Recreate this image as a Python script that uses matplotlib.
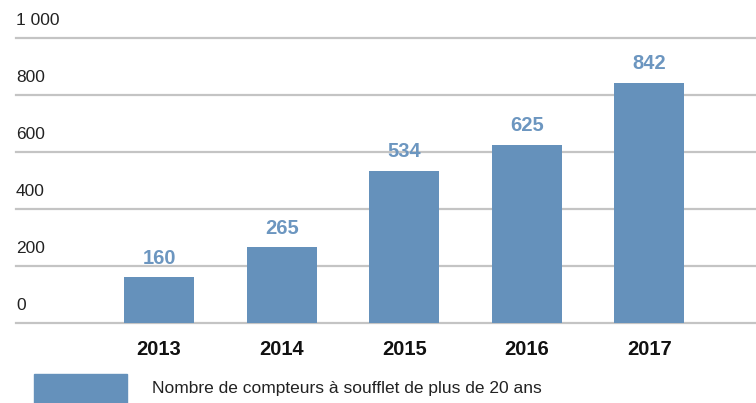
import matplotlib
matplotlib.use("Agg")
import matplotlib.pyplot as plt
from matplotlib.patches import Rectangle

years = ["2013", "2014", "2015", "2016", "2017"]
values = [160, 265, 534, 625, 842]
yticks = [0, 200, 400, 600, 800, 1000]
ytick_labels = ["0", "200", "400", "600", "800", "1 000"]
legend_label = "Nombre de compteurs à soufflet de plus de 20 ans"

plt.rcParams["font.family"] = ["Liberation Sans", "DejaVu Sans"]

bar_color = "#6591BB"
label_color = "#6C96C0"
grid_color = "#C4C4C4"

fig = plt.figure(figsize=(7.56, 4.03), dpi=100)
ax = fig.add_axes([16/756, 1-323/403, 1-16/756, (323-38)/403])

x = list(range(len(years)))
ax.bar(x, values, width=0.571, color=bar_color, zorder=3)
ax.set_xlim(-1.167, 4.87)
ax.set_ylim(0, 1000)

for t in yticks:
    ax.axhline(t, color=grid_color, lw=1.6, zorder=1, clip_on=False)
for t, lab in zip(yticks, ytick_labels):
    ax.annotate(lab, xy=(0, t), xycoords=("axes fraction", "data"),
                xytext=(0, 7), textcoords="offset points",
                ha="left", va="bottom", fontsize=12.5, color="#222222")

for xi, v in zip(x, values):
    ax.annotate(str(v), xy=(xi, v), xytext=(0, 7), textcoords="offset points",
                ha="center", va="bottom", fontsize=14.5, fontweight="bold",
                color=label_color, annotation_clip=False)

ax.set_xticks(x)
ax.set_xticklabels(years, fontsize=14.5, fontweight="bold", color="#111111")
ax.tick_params(axis="x", length=0, pad=12)
ax.set_yticks([])
for s in ax.spines.values():
    s.set_visible(False)

fig.patches.append(Rectangle((34/756, 0), 93/756, 29/403, transform=fig.transFigure,
                             color=bar_color, zorder=3))
fig.text(152/756, 1-389/403, legend_label, fontsize=12.5, va="center", ha="left",
         color="#222222")

fig.savefig("out.png", dpi=100)
